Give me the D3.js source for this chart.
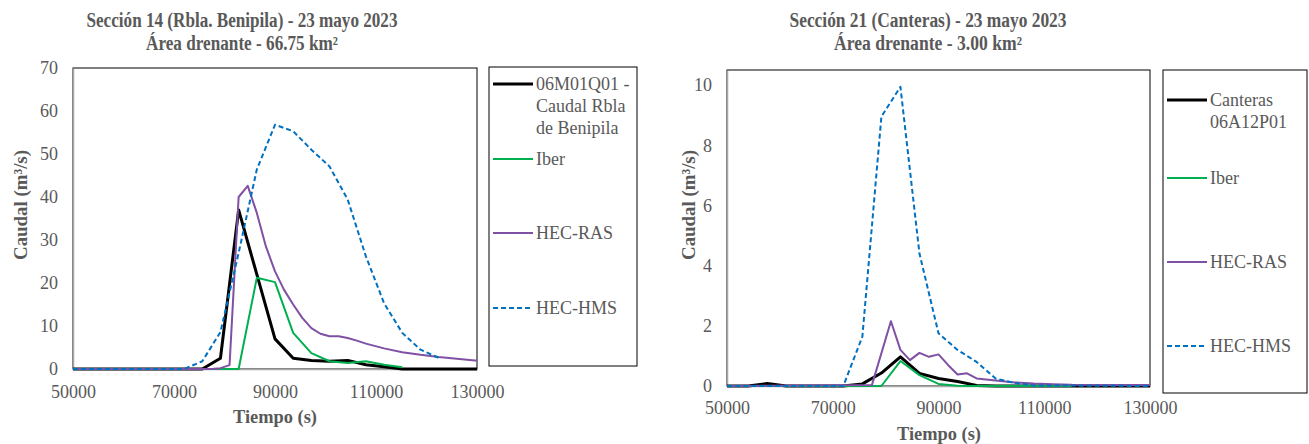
<!DOCTYPE html>
<html>
<head>
<meta charset="utf-8">
<script src="https://cdn.jsdelivr.net/npm/d3@7"></script>
<style>
  body { margin: 0; background: #fff; }
</style>
</head>
<body>
<svg id="chart" width="1309" height="444" font-family="Liberation Serif"></svg>
<script>
// --- Sección 14 (Rbla. Benipila) ---
const s14ObsT  = [50000, 75600, 79200, 82800, 86400, 90000, 93600, 97200, 100800, 104400, 108000, 111600, 115200, 130000]
const s14ObsQ  = [0, 0, 2.5, 37, 22, 7, 2.5, 2, 1.8, 2, 1, 0.5, 0, 0]
const s14IberT = [50000, 82800, 86400, 90000, 93600, 97200, 100800, 104400, 108000, 111600, 115200]
const s14IberQ = [0, 0, 21.2, 20.2, 8.4, 3.7, 1.8, 1.4, 1.8, 1.0, 0.4]
const s14RasT  = [50000, 77400, 79200, 81000, 82800, 84600, 86400, 88200, 90000, 91800, 93600, 95400, 97200, 99000, 100800, 102600, 104400, 106200, 108000, 111600, 115200, 118800, 122400, 126000, 129600, 130000]
const s14RasQ  = [0, 0, 0.2, 0.9, 40, 42.6, 36.3, 28.5, 22.7, 18.4, 15, 11.9, 9.5, 8.2, 7.6, 7.6, 7.2, 6.6, 5.9, 4.8, 3.9, 3.3, 2.8, 2.4, 2.0, 1.95]
const s14HmsT  = [50000, 72000, 75600, 79200, 82800, 86400, 90000, 93600, 97200, 100800, 104400, 108000, 111600, 115200, 118800, 122400]
const s14HmsQ  = [0, 0, 1.8, 8.6, 27, 46.4, 56.8, 55.3, 51, 47.1, 39.4, 26.2, 15.3, 8.4, 4.5, 2.6]

// --- Sección 21 (Canteras) ---
const s21ObsT  = [50000, 54000, 57600, 61200, 72000, 75600, 79200, 82800, 86400, 90000, 93600, 97200, 100800, 130000]
const s21ObsQ  = [0, 0, 0.08, 0, 0, 0.07, 0.43, 0.97, 0.42, 0.25, 0.15, 0.02, 0, 0]
const s21IberT = [50000, 79200, 82800, 86400, 90000, 93600, 97200, 115200]
const s21IberQ = [0, 0, 0.83, 0.36, 0.07, 0.01, 0, 0]
const s21RasT  = [50000, 77400, 81000, 82800, 84600, 86400, 88200, 90000, 91800, 93600, 95400, 97200, 100800, 104400, 108000, 111600, 115200, 122400, 130000]
const s21RasQ  = [0, 0.03, 2.15, 1.2, 0.86, 1.1, 0.97, 1.05, 0.7, 0.38, 0.42, 0.25, 0.18, 0.12, 0.08, 0.06, 0.04, 0.03, 0.03]
const s21HmsT  = [50000, 72000, 75600, 79200, 82800, 86400, 90000, 93600, 97200, 100800, 104400, 108000, 130000]
const s21HmsQ  = [0, 0, 1.64, 8.95, 9.94, 4.4, 1.75, 1.2, 0.8, 0.25, 0.1, 0.02, 0]

const xTicks = [50000, 70000, 90000, 110000, 130000]
const s14YTicks = [0, 10, 20, 30, 40, 50, 60, 70]
const s21YTicks = [0, 2, 4, 6, 8, 10]

const seriesStyle = [
  {color: '#000000', width: 3, dash: null},
  {color: '#00b050', width: 2, dash: null},
  {color: '#7f50a4', width: 2, dash: null},
  {color: '#0070c0', width: 2, dash: '5,3'}
]

const FONT = 'Liberation Serif'
const GREY = '#595959'
const zip = (t, q) => t.map((v, i) => [v, q[i]])
const svg = d3.select('#chart')

function drawChart(cfg) {
  const g = svg.append('g')
  const x = d3.scaleLinear().domain([50000, 130000]).range([cfg.left, cfg.right])
  const y = d3.scaleLinear().domain([0, cfg.yMax]).range([cfg.bottom, cfg.top])

  // titles
  cfg.title.forEach((t, i) => g.append('text')
    .attr('x', cfg.titleX).attr('y', 27 + i * 23).attr('text-anchor', 'middle')
    .attr('font-family', FONT).attr('font-weight', 'bold').attr('fill', GREY)
    .attr('font-size', 20).attr('textLength', cfg.titleLen[i]).attr('lengthAdjust', 'spacingAndGlyphs')
    .text(t))

  // plot frame
  g.append('rect').attr('x', cfg.left).attr('y', cfg.top)
    .attr('width', cfg.right - cfg.left).attr('height', cfg.bottom - cfg.top)
    .attr('fill', 'none').attr('stroke', '#000').attr('stroke-width', 1)

  const xAxis = g.append('g').attr('transform', `translate(0,${cfg.bottom})`)
    .call(d3.axisBottom(x).tickValues(xTicks).tickFormat(d3.format('d')).tickSize(0).tickPadding(cfg.xPad))
  const yAxis = g.append('g').attr('transform', `translate(${cfg.left},0)`)
    .call(d3.axisLeft(y).tickValues(cfg.yTicks).tickFormat(d3.format('d')).tickSize(0).tickPadding(15))
  ;[xAxis, yAxis].forEach(a => {
    a.attr('font-family', FONT)
    a.select('.domain').attr('stroke', '#a6a6a6').attr('stroke-width', 1.5)
    a.selectAll('text').attr('font-size', 18).attr('font-family', FONT).attr('fill', GREY)
  })

  const line = d3.line().x(d => x(d[0])).y(d => y(d[1]))
  cfg.series.forEach((s, i) => {
    const st = seriesStyle[i]
    g.append('path').datum(zip(s.t, s.q)).attr('d', line)
      .attr('fill', 'none').attr('stroke', st.color).attr('stroke-width', st.width)
      .attr('stroke-dasharray', st.dash).attr('stroke-linejoin', 'round')
  })

  // axis titles
  g.append('text').attr('font-family', FONT).attr('font-weight', 'bold').attr('fill', GREY).attr('font-size', 19)
    .attr('transform', `translate(${cfg.yTitleX},205) rotate(-90)`).attr('text-anchor', 'middle')
    .attr('dy', '0.35em').attr('textLength', 110).attr('lengthAdjust', 'spacingAndGlyphs')
    .text('Caudal (m³/s)')
  g.append('text').attr('font-family', FONT).attr('font-weight', 'bold').attr('fill', GREY).attr('font-size', 19)
    .attr('x', cfg.xTitleX).attr('y', cfg.xTitleY).attr('text-anchor', 'middle')
    .attr('textLength', 84).attr('lengthAdjust', 'spacingAndGlyphs')
    .text('Tiempo (s)')

  // legend
  const lg = cfg.legend
  g.append('rect').attr('x', lg.x0).attr('y', lg.y0).attr('width', lg.x1 - lg.x0).attr('height', lg.y1 - lg.y0)
    .attr('fill', '#fff').attr('stroke', '#000').attr('stroke-width', 1)
  cfg.series.forEach((s, i) => {
    const st = seriesStyle[i]
    const cy = lg.rows[i]
    g.append('line').attr('x1', lg.x0 + 4).attr('x2', lg.x0 + 44).attr('y1', cy).attr('y2', cy)
      .attr('stroke', st.color).attr('stroke-width', st.width).attr('stroke-dasharray', st.dash)
    const txt = g.append('text').attr('x', lg.x0 + 47).attr('y', cy)
      .attr('font-family', FONT).attr('fill', GREY).attr('font-size', 18)
    s.name.forEach((ln, j) => txt.append('tspan').attr('x', lg.x0 + 47).attr('dy', j === 0 ? '0.33em' : 22).text(ln))
  })
}

drawChart({
  left: 73, right: 477, top: 68, bottom: 369, yMax: 70, yTicks: s14YTicks, xPad: 16,
  title: ['Sección 14 (Rbla. Benipila) - 23 mayo 2023', 'Área drenante - 66.75 km²'],
  titleX: 242, titleLen: [311, 192],
  yTitleX: 20, xTitleX: 275, xTitleY: 423,
  legend: {x0: 489, x1: 637, y0: 67, y1: 366, rows: [84, 159, 233, 308]},
  series: [
    {name: ['06M01Q01 -', 'Caudal Rbla', 'de Benipila'], t: s14ObsT, q: s14ObsQ},
    {name: ['Iber'], t: s14IberT, q: s14IberQ},
    {name: ['HEC-RAS'], t: s14RasT, q: s14RasQ},
    {name: ['HEC-HMS'], t: s14HmsT, q: s14HmsQ}
  ]
})

drawChart({
  left: 727, right: 1150, top: 70, bottom: 386, yMax: 10.5, yTicks: s21YTicks, xPad: 15,
  title: ['Sección 21 (Canteras) - 23 mayo 2023', 'Área drenante - 3.00 km²'],
  titleX: 928, titleLen: [277, 188],
  yTitleX: 688, xTitleX: 939, xTitleY: 440,
  legend: {x0: 1163, x1: 1307, y0: 70, y1: 393, rows: [100, 178, 262, 346]},
  series: [
    {name: ['Canteras', '06A12P01'], t: s21ObsT, q: s21ObsQ},
    {name: ['Iber'], t: s21IberT, q: s21IberQ},
    {name: ['HEC-RAS'], t: s21RasT, q: s21RasQ},
    {name: ['HEC-HMS'], t: s21HmsT, q: s21HmsQ}
  ]
})
</script>
</body>
</html>
